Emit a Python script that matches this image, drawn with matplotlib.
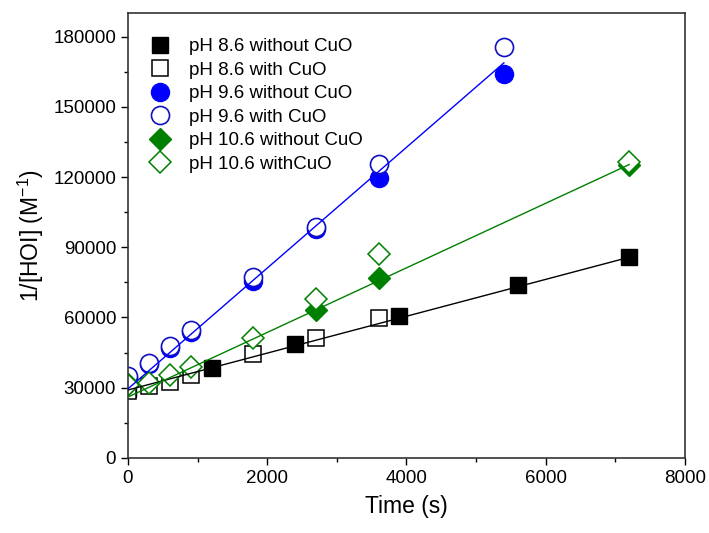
import matplotlib
matplotlib.use('Agg')
import matplotlib.pyplot as plt
import numpy as np

plt.rcParams['font.family'] = ['Liberation Sans', 'DejaVu Sans']

# pH 8.6
t86_wo = [0, 1200, 2400, 3900, 5600, 7200]
y86_wo = [29500, 38300, 48600, 60500, 74000, 85800]
t86_w = [0, 300, 600, 900, 1800, 2700, 3600]
y86_w = [28500, 30500, 32500, 35500, 44300, 51400, 59900]
# pH 9.6
t96_wo = [0, 300, 600, 900, 1800, 2700, 3600, 5400]
y96_wo = [34000, 40000, 47000, 54000, 75800, 97800, 119800, 164000]
t96_w = [0, 300, 600, 900, 1800, 2700, 3600, 5400]
y96_w = [35000, 40600, 48000, 54600, 77200, 98500, 125600, 175800]
# pH 10.6
t106_wo = [0, 2700, 3600, 7200]
y106_wo = [31500, 63300, 76800, 125300]
t106_w = [0, 300, 600, 900, 1800, 2700, 3600, 7200]
y106_w = [31000, 32000, 35300, 38800, 51400, 68100, 87000, 126300]

# linear fits (intercept, slope, end time)
fit86 = (29000, 7.88, 7200)
fit96 = (29500, 25.8, 5400)
fit106 = (26000, 13.8, 7200)

fig = plt.figure(figsize=(7.09, 5.33), dpi=100)
ax = fig.add_axes([0.1805, 0.141, 0.7855, 0.834])

for (b, m, tend), c in [(fit86, 'black'), (fit96, 'blue'), (fit106, 'green')]:
    tt = np.array([0, tend])
    ax.plot(tt, b + m * tt, color=c, lw=1, zorder=5)

ax.plot(t86_wo, y86_wo, 's', color='black', ms=11.5, ls='none', label='pH 8.6 without CuO')
ax.plot(t86_w, y86_w, 's', mfc='white', mec='black', mew=1.1, ms=11.5, ls='none', label='pH 8.6 with CuO')
ax.plot(t96_wo, y96_wo, 'o', color='blue', ms=13, ls='none', label='pH 9.6 without CuO')
ax.plot(t96_w, y96_w, 'o', mfc='white', mec='#1010c0', mew=1.2, ms=13, ls='none', label='pH 9.6 with CuO')
ax.plot(t106_wo, y106_wo, 'D', color='green', ms=11.5, ls='none', label='pH 10.6 without CuO')
ax.plot(t106_w, y106_w, 'D', mfc='white', mec='green', mew=1.1, ms=11.5, ls='none', label='pH 10.6 withCuO')

ax.set_xlim(0, 8000)
ax.set_ylim(0, 190000)
ax.set_xticks([0, 2000, 4000, 6000, 8000])
ax.set_xticks(np.arange(0, 8001, 1000), minor=True)
ax.set_yticks(np.arange(0, 180001, 30000))
ax.set_yticks(np.arange(0, 190001, 15000), minor=True)
ax.tick_params(which='both', direction='out', top=False, right=False, labelsize=13.5, width=1)
ax.tick_params(which='major', length=5)
ax.tick_params(which='minor', length=3)
for s in ax.spines.values():
    s.set_color('#333333')
    s.set_linewidth(1.2)

ax.set_xlabel('Time (s)', fontsize=16.5, labelpad=6)
ax.set_ylabel('1/[HOI] (M$^{\\mathregular{-1}}$)', fontsize=16.5, labelpad=5)

ax.legend(loc='upper left', frameon=False, fontsize=13.5, bbox_to_anchor=(0.0, 0.982),
          handletextpad=0.75, labelspacing=0.34, borderaxespad=0.5, handlelength=1.6)

fig.savefig('out.png', dpi=100)
